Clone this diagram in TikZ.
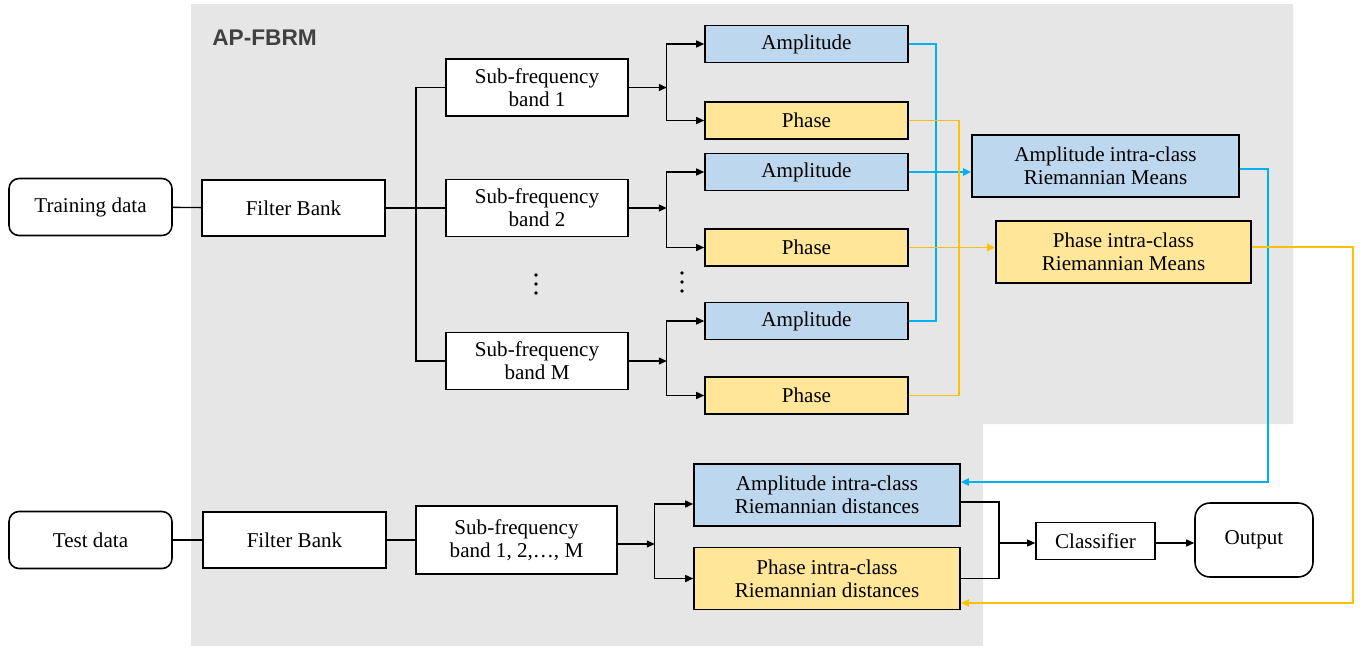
\documentclass[tikz,border=0pt]{standalone}
\usepackage{fontspec}
\setmainfont{Liberation Serif}
\newfontfamily\titlefont{Liberation Sans}
\usetikzlibrary{arrows.meta}

\definecolor{bggray}{HTML}{E6E6E6}
\definecolor{titlegray}{HTML}{404040}
\definecolor{ampfill}{HTML}{BDD7EE}
\definecolor{phfill}{HTML}{FFE699}
\definecolor{ampcol}{HTML}{00B0F0}
\definecolor{phcol}{HTML}{FFC000}

\tikzset{
  box/.style={draw, line width=0.9pt, fill=white, inner sep=0pt, align=center,
              font=\fontsize{12}{13}\selectfont},
  databox/.style={box, rounded corners=2mm, minimum width=3.26cm, minimum height=1.14cm},
  fbbox/.style={box, minimum width=3.66cm, minimum height=1.12cm},
  bandbox/.style={box, minimum width=3.64cm, minimum height=1.14cm},
  ampbox/.style={box, fill=ampfill, minimum width=4.06cm, minimum height=0.74cm},
  phbox/.style={box, fill=phfill, minimum width=4.06cm, minimum height=0.74cm},
  tip/.style={-{Triangle[length=1.6mm,width=1.4mm]}},
  conn/.style={line width=0.8pt},
  arr/.style={conn, tip},
  ampline/.style={line width=1.1pt, draw=ampcol},
  phline/.style={line width=1.1pt, draw=phcol},
}

\begin{document}
\begin{tikzpicture}[x=0.02cm, y=-0.02cm]
    \useasboundingbox (0,0) rectangle (1367,647);

    % grey frame of the method
    \fill[bggray] (191,4) -- (1293,4) -- (1293,424) -- (983,424) -- (983,646) -- (191,646) -- cycle;
    \node[anchor=west, inner sep=0pt, text=titlegray,
          font=\titlefont\bfseries\fontsize{12.9}{14}\selectfont] (title) at (212,38) {AP-FBRM};

    % training branch
    \node[databox] (train) at (90.5,207) {Training data};
    \node[fbbox] (fb1) at (293.5,208) {Filter Bank};
    \node[bandbox] (band1) at (537,87.5) {Sub-frequency\\band 1};
    \node[bandbox] (band2) at (537,208) {Sub-frequency\\band 2};
    \node[bandbox] (bandM) at (537,361) {Sub-frequency\\band M};

    \node[ampbox] (amp1) at (806.5,44) {Amplitude};
    \node[phbox] (ph1) at (806.5,120.5) {Phase};
    \node[ampbox] (amp2) at (806.5,172) {Amplitude};
    \node[phbox] (ph2) at (806.5,247.5) {Phase};
    \node[ampbox] (ampM) at (806.5,321) {Amplitude};
    \node[phbox] (phM) at (806.5,395.5) {Phase};

    \node[box, fill=ampfill, minimum width=5.34cm, minimum height=1.24cm] (ampmean) at (1105.5,166)
        {Amplitude intra-class\\Riemannian Means};
    \node[box, fill=phfill, minimum width=5.10cm, minimum height=1.24cm] (phmean) at (1123.5,252)
        {Phase intra-class\\Riemannian Means};

    % dots
    \foreach \y in {275,284,293} \fill (536,\y) circle (1.1pt);
    \foreach \y in {273,282,291} \fill (682,\y) circle (1.1pt);

    % test branch
    \node[databox] (test) at (90.5,540) {Test data};
    \node[fbbox] (fbT) at (294.5,540) {Filter Bank};
    \node[box, minimum width=4.02cm, minimum height=1.36cm] (bandT) at (516.5,540)
        {Sub-frequency\\band 1, 2,\ldots, M};
    \node[box, fill=ampfill, minimum width=5.32cm, minimum height=1.24cm] (ampdist) at (827,495)
        {Amplitude intra-class\\Riemannian distances};
    \node[box, fill=phfill, minimum width=5.32cm, minimum height=1.24cm] (phdist) at (827,578.5)
        {Phase intra-class\\Riemannian distances};
    \node[box, minimum width=2.38cm, minimum height=0.74cm] (clf) at (1095.5,541) {Classifier};
    \node[box, rounded corners=3mm, minimum width=2.36cm, minimum height=1.48cm] (out) at (1254,540) {Output};

    % train to bands
    \draw[conn] (train) -- (fb1);
    \draw[conn] (fb1) -- (band2);
    \draw[conn] (band1.west) -| (416,208) |- (bandM.west);

    % bands to amplitude and phase
    \foreach \b in {1,2,M} {
        \draw[arr] (band\b.east) -- ++(38,0) coordinate (split\b);
        \draw[arr] (split\b) |- (amp\b.west);
        \draw[arr] (split\b) |- (ph\b.west);
    }

    % amplitude / phase to means
    \draw[ampline] (amp1.east) -- ++(27,0) |- (ampM.east);
    \draw[ampline, tip] (amp2.east) -- (amp2.east -| ampmean.west);
    \draw[phline] (ph1.east) -- ++(50,0) |- (phM.east);
    \draw[phline, tip] (ph2.east) -- (ph2.east -| phmean.west);

    % means to distances
    \draw[ampline, tip] ([yshift=-0.06cm]ampmean.east) -- ++(28,0) |- ([yshift=0.26cm]ampdist.east);
    \draw[phline, tip] ([yshift=0.1cm]phmean.east) -- ++(101,0) |- ([yshift=-0.49cm]phdist.east);

    % test to bands
    \draw[conn] (test) -- (fbT);
    \draw[conn] (fbT) -- (bandT);
    \draw[arr] ([yshift=-0.08cm]bandT.east) -- ++(37,0) coordinate (splitT);
    \draw[arr] (splitT) |- ([yshift=-0.18cm]ampdist.west);
    \draw[arr] (splitT) |- (phdist.west);

    % distances to classifier
    \coordinate (merge) at (999,543);
    \draw[conn] ([yshift=-0.14cm]ampdist.east) -| (merge) |- (phdist.east);
    \draw[arr] (merge) -- (merge -| clf.west);
    \draw[arr] (clf.east |- merge) -- (out.west |- merge);
\end{tikzpicture}
\end{document}
